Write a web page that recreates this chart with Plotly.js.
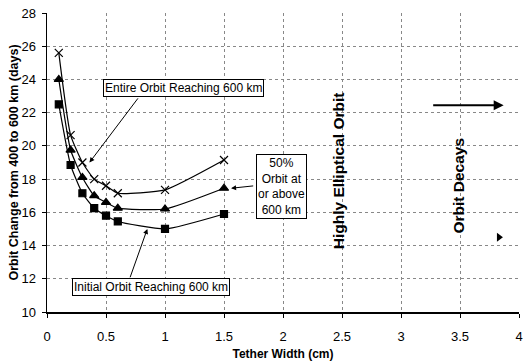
<!DOCTYPE html>
<html><head><meta charset="utf-8">
<script src="https://cdn.plot.ly/plotly-3.0.1.min.js"></script>
<style>html,body{margin:0;padding:0;background:#fff}#c{width:524px;height:364px}</style>
</head><body><div id="c"></div>
<script>
var widths = [0.1, 0.2, 0.3, 0.4, 0.5, 0.6, 1.0, 1.5];
var entireOrbit = [25.6, 20.65, 19.0, 18.0, 17.6, 17.15, 17.35, 19.15];
var halfOrbit = [24.0, 19.75, 18.1, 17.0, 16.6, 16.25, 16.2, 17.45];
var initialOrbit = [22.5, 18.85, 17.15, 16.25, 15.8, 15.45, 15.0, 15.9];
var decayMarkX = [3.83];
var decayMarkY = [14.5];
var yTicks = [10, 12, 14, 16, 18, 20, 22, 24, 26, 28];
var xTicks = [0, 0.5, 1, 1.5, 2, 2.5, 3, 3.5, 4];
var xTickText = ['0', '0.5', '1', '1.5', '2', '2.5', '3', '3.5', '4'];

var F = 'Liberation Sans, Arial, sans-serif';
function series(y, sym, sz) {
  return {x: widths, y: y, type: 'scatter', mode: 'lines+markers',
    line: {color: '#000', width: 1.2, shape: 'spline', smoothing: 0.5},
    marker: {symbol: sym, size: sz, color: '#000', line: {color: '#000', width: 1.2}},
    showlegend: false, hoverinfo: 'skip'};
}
var traces = [
  series(entireOrbit, 'x-thin', 8),
  series(halfOrbit, 'triangle-up', 8),
  series(initialOrbit, 'square', 7),
  {x: decayMarkX, y: decayMarkY, type: 'scatter', mode: 'markers',
   marker: {symbol: 'triangle-right', size: 8, color: '#000'}, showlegend: false}
];

function box(text, x, y) {
  return {text: text, x: x, y: y, xref: 'x', yref: 'y', showarrow: false,
    font: {family: F, size: 12, color: '#000'}, bgcolor: '#fff',
    bordercolor: '#000', borderwidth: 1, borderpad: 1, align: 'center'};
}
function arrow(x, y, ax, ay, w, head) {
  return {text: '', x: x, y: y, ax: ax, ay: ay, xref: 'x', yref: 'y', axref: 'x', ayref: 'y',
    showarrow: true, arrowhead: head || 2, arrowsize: 1, arrowwidth: w || 1, arrowcolor: '#000'};
}
var annotations = [
  arrow(0.36, 19.0, 0.78, 22.95),
  arrow(0.85, 15.0, 0.7, 12.0),
  arrow(1.56, 17.45, 1.76, 17.6),
  arrow(3.87, 22.45, 3.26, 22.45, 2, 2),
  box('Entire Orbit Reaching 600 km', 1.16, 23.5),
  box('Initial Orbit Reaching 600 km', 0.88, 11.5),
  box('50%<br>Orbit at<br>or above<br>600 km', 1.99, 17.55),
  {text: '<b>Highly Elliptical Orbit</b>', x: 2.47, y: 18.5, xref: 'x', yref: 'y',
   showarrow: false, textangle: -90, font: {family: F, size: 15.5, color: '#000'}},
  {text: '<b>Orbit Decays</b>', x: 3.49, y: 17.6, xref: 'x', yref: 'y',
   showarrow: false, textangle: -90, font: {family: F, size: 15.5, color: '#000'}}
];

var layout = {
  width: 524, height: 364,
  margin: {l: 47, r: 5, t: 13, b: 52},
  paper_bgcolor: '#fff', plot_bgcolor: '#fff',
  font: {family: F, color: '#000'},
  xaxis: {range: [0, 4], tickvals: xTicks, ticktext: xTickText,
    showgrid: true, gridcolor: '#888', griddash: 'dot', gridwidth: 1,
    showline: true, linecolor: '#000', linewidth: 1.5, ticks: 'outside', ticklen: 4, tickcolor: '#000',
    ticklabelstandoff: 8, ticklabeloverflow: 'allow', tickfont: {family: F, size: 13},
    zeroline: false,
    title: {text: '<b>Tether Width (cm)</b>', font: {family: F, size: 12}, standoff: 6}},
  yaxis: {range: [10, 28], tickvals: yTicks,
    showgrid: true, gridcolor: '#888', griddash: 'dot', gridwidth: 1,
    showline: true, linecolor: '#000', linewidth: 1.5, ticks: 'outside', ticklen: 4, tickcolor: '#000',
    ticklabelstandoff: 3, tickfont: {family: F, size: 13},
    zeroline: false,
    title: {text: '<b>Orbit Change from 400 to 600 km (days)</b>', font: {family: F, size: 12.5}, standoff: 0}},
  annotations: annotations
};
Plotly.newPlot('c', traces, layout, {displayModeBar: false, staticPlot: true});
</script></body></html>
